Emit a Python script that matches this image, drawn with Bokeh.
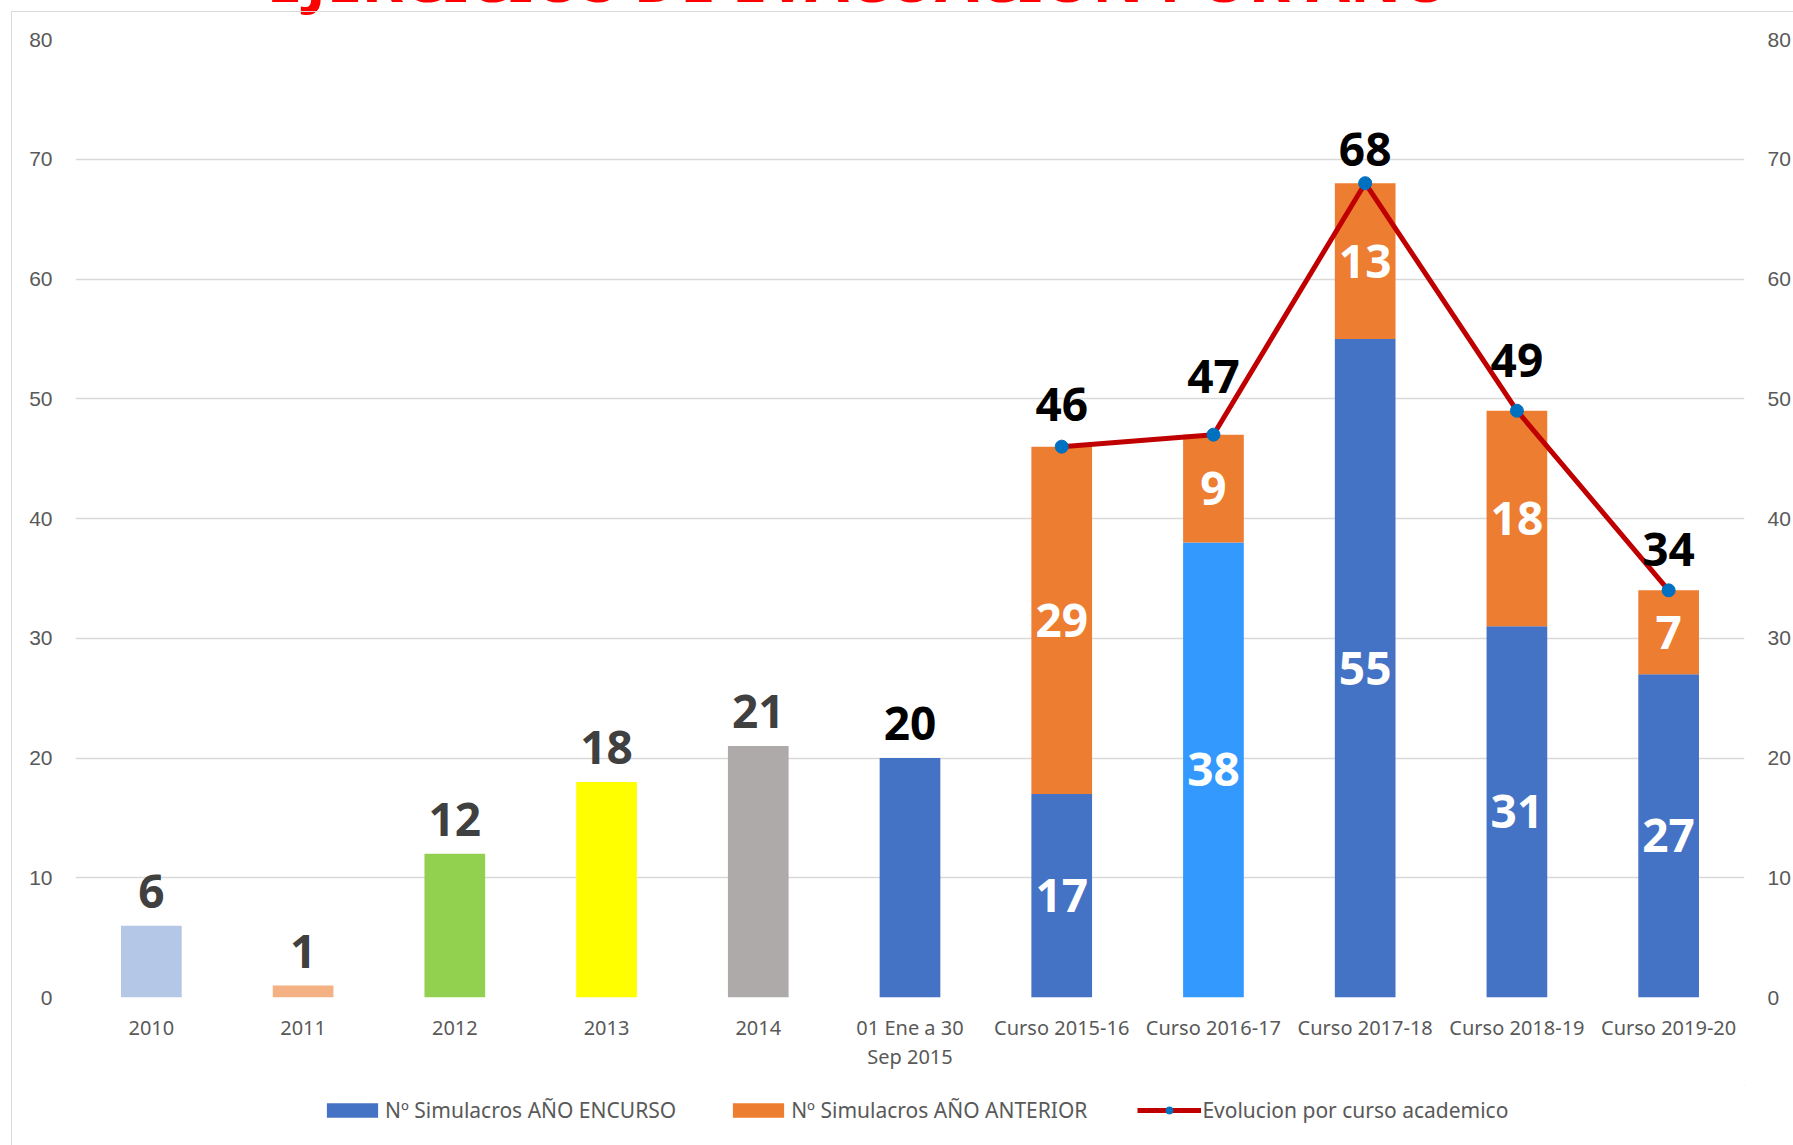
from bokeh.plotting import figure
from bokeh.layouts import column
from bokeh.models import (ColumnDataSource, FactorRange, LinearAxis, FixedTicker,
                          Legend, LegendItem, LabelSet, Range1d, Title, InlineStyleSheet)
from bokeh.core.properties import value
from bokeh.embed import file_html
from bokeh.resources import INLINE

# ---------------- data ----------------
categories = ["2010", "2011", "2012", "2013", "2014", "01 Ene a 30\nSep 2015",
              "Curso 2015-16", "Curso 2016-17", "Curso 2017-18", "Curso 2018-19", "Curso 2019-20"]
early_cats = ["2010", "2011", "2012", "2013", "2014", "01 Ene a 30\nSep 2015"]
early_values = [6, 1, 12, 18, 21, 20]
course_cats = ["Curso 2015-16", "Curso 2016-17", "Curso 2017-18", "Curso 2018-19", "Curso 2019-20"]
current_year = [17, 38, 55, 31, 27]
previous_year = [29, 9, 13, 18, 7]
evolution = [46, 47, 68, 49, 34]
y_ticks = [0, 10, 20, 30, 40, 50, 60, 70, 80]

title_text = "EJERCICIOS DE EVACUACIÓN POR AÑO"
legend_labels = ["Nº Simulacros AÑO ENCURSO", "Nº Simulacros AÑO ANTERIOR", "Evolucion por curso academico"]

# ---------------- styles ----------------
early_colors = ["#B4C7E7", "#F4B183", "#92D050", "#FFFF00", "#AEAAAA", "#4472C4"]
early_label_colors = ["#404040", "#404040", "#404040", "#404040", "#404040", "#000000"]
current_colors = ["#4472C4", "#3399FF", "#4472C4", "#4472C4", "#4472C4"]
top_label_offsets = [26, 42, 17, 34, 24]
BLUE = "#4472C4"
ORANGE = "#ED7D31"
RED = "#C00000"
MARKER = "#0070C0"
LABEL_FONT = value("Noto Sans")
LABEL_SIZE = value("46px")
HIDDEN_TOP = 120   # part of the canvas above the page (title is cut off in the original)

border_css = InlineStyleSheet(css="""
:host { position: relative; }
:host::after { content: ""; position: absolute; left: 11px; top: 11px;
  right: -10px; bottom: -10px; border: 1.5px solid #D9D9D9; pointer-events: none; }
""")

p = figure(x_range=FactorRange(*categories), y_range=Range1d(0, 80),
           width=1793, height=1085 + HIDDEN_TOP, output_backend="svg", toolbar_location=None,
           min_border_left=75, min_border_right=48, min_border_top=39 + HIDDEN_TOP,
           min_border_bottom=88, margin=(-HIDDEN_TOP, 0, 0, 0),
           background_fill_color="white", border_fill_color="white", outline_line_color=None)

# title (only its lower edge shows, as in the original)
p.title = Title(text=title_text, align="left", offset=191, standoff=39, vertical_align="bottom",
                text_font="Noto Sans", text_font_size="63px", text_font_style="bold",
                text_color="#FF0000")

# early single bars
early_src = ColumnDataSource(dict(cat=early_cats, val=early_values, color=early_colors,
                                  lc=early_label_colors, txt=[str(v) for v in early_values]))
p.vbar(x="cat", top="val", width=0.4, fill_color="color", line_color=None, source=early_src)
p.add_layout(LabelSet(x="cat", y="val", text="txt", source=early_src, y_offset=18,
                      text_align="center", text_baseline="alphabetic", text_color="lc",
                      text_font=LABEL_FONT, text_font_size=LABEL_SIZE, text_font_style="bold"))

# stacked course bars
course_src = ColumnDataSource(dict(
    cat=course_cats, cur=current_year, prev=previous_year, total=evolution,
    ccol=current_colors,
    cur_mid=[c / 2 for c in current_year],
    prev_mid=[c + pv / 2 for c, pv in zip(current_year, previous_year)],
    cur_txt=[str(v) for v in current_year],
    prev_txt=[str(v) for v in previous_year],
    tot_txt=[str(v) for v in evolution],
    yo=top_label_offsets,
))
p.vbar(x="cat", bottom=0, top="cur", width=0.4, fill_color="ccol", line_color=None, source=course_src)
p.vbar(x="cat", bottom="cur", top="total", width=0.4, fill_color=ORANGE, line_color=None, source=course_src)
p.line(x="cat", y="total", line_color=RED, line_width=5, source=course_src)
p.scatter(x="cat", y="total", size=13, fill_color=MARKER, line_color=MARKER, source=course_src)

for ycol, tcol in (("cur_mid", "cur_txt"), ("prev_mid", "prev_txt")):
    p.add_layout(LabelSet(x="cat", y=ycol, text=tcol, source=course_src,
                          text_align="center", text_baseline="middle", text_color="white",
                          text_font=LABEL_FONT, text_font_size=LABEL_SIZE, text_font_style="bold"))
p.add_layout(LabelSet(x="cat", y="total", text="tot_txt", source=course_src, y_offset="yo",
                      text_align="center", text_baseline="alphabetic", text_color="black",
                      text_font=LABEL_FONT, text_font_size=LABEL_SIZE, text_font_style="bold"))

# axes
p.xgrid.grid_line_color = None
p.ygrid.grid_line_color = "#D9D9D9"
p.ygrid.grid_line_width = 1.5
p.yaxis.ticker = FixedTicker(ticks=y_ticks)
p.ygrid.ticker = FixedTicker(ticks=y_ticks)

right_axis = LinearAxis(ticker=FixedTicker(ticks=y_ticks))
p.add_layout(right_axis, "right")

for ax in p.yaxis:
    ax.axis_line_color = None
    ax.major_tick_line_color = None
    ax.minor_tick_line_color = None
    ax.major_tick_in = 0
    ax.major_tick_out = 0
    ax.major_label_text_font = "Liberation Sans"
    ax.major_label_text_font_size = "21px"
    ax.major_label_text_color = "#595959"
    ax.major_label_standoff = 23

xa = p.xaxis[0]
xa.axis_line_color = None
xa.major_tick_line_color = None
xa.major_tick_in = 0
xa.major_tick_out = 0
xa.major_label_text_font = "Noto Sans"
xa.major_label_text_font_size = "20px"
xa.major_label_text_color = "#595959"
xa.major_label_standoff = 16
xa.major_label_text_line_height = 1.1

# legend strip (separate small figure below the chart); its key glyphs are
# stand-ins placed outside the strip's visible range so only the legend shows
lf = figure(width=1793, height=60, output_backend="svg", toolbar_location=None,
            x_range=Range1d(0, 1), y_range=Range1d(0, 1), x_axis_type=None, y_axis_type=None,
            min_border=0, min_border_left=0, min_border_right=0, min_border_top=0,
            min_border_bottom=0, outline_line_color=None, background_fill_color="white",
            border_fill_color="white")
lf.grid.visible = False
hidden_src = ColumnDataSource(dict(x=[5], y=[5]))
l_cur = lf.vbar(x="x", top="y", bottom="y", width=0.1, fill_color=BLUE, line_color=None, source=hidden_src)
l_prev = lf.vbar(x="x", top="y", bottom="y", width=0.1, fill_color=ORANGE, line_color=None, source=hidden_src)
l_line = lf.line(x="x", y="y", line_color=RED, line_width=5, source=hidden_src)
l_pts = lf.scatter(x="x", y="y", size=13, fill_color=MARKER, line_color=MARKER, source=hidden_src)
legend = Legend(items=[LegendItem(label=legend_labels[0], renderers=[l_cur]),
                       LegendItem(label=legend_labels[1], renderers=[l_prev]),
                       LegendItem(label=legend_labels[2], renderers=[l_line, l_pts])],
                orientation="horizontal", location=(245, 21),
                glyph_width=64, glyph_height=18, label_standoff=1, spacing=50,
                padding=0, margin=0, border_line_color=None, background_fill_alpha=0,
                label_text_font="Noto Sans", label_text_font_size="21px",
                label_text_color="#595959")
lf.add_layout(legend)

layout = column(p, lf, stylesheets=[border_css])

open("out.html", "w").write(file_html(layout, INLINE))
